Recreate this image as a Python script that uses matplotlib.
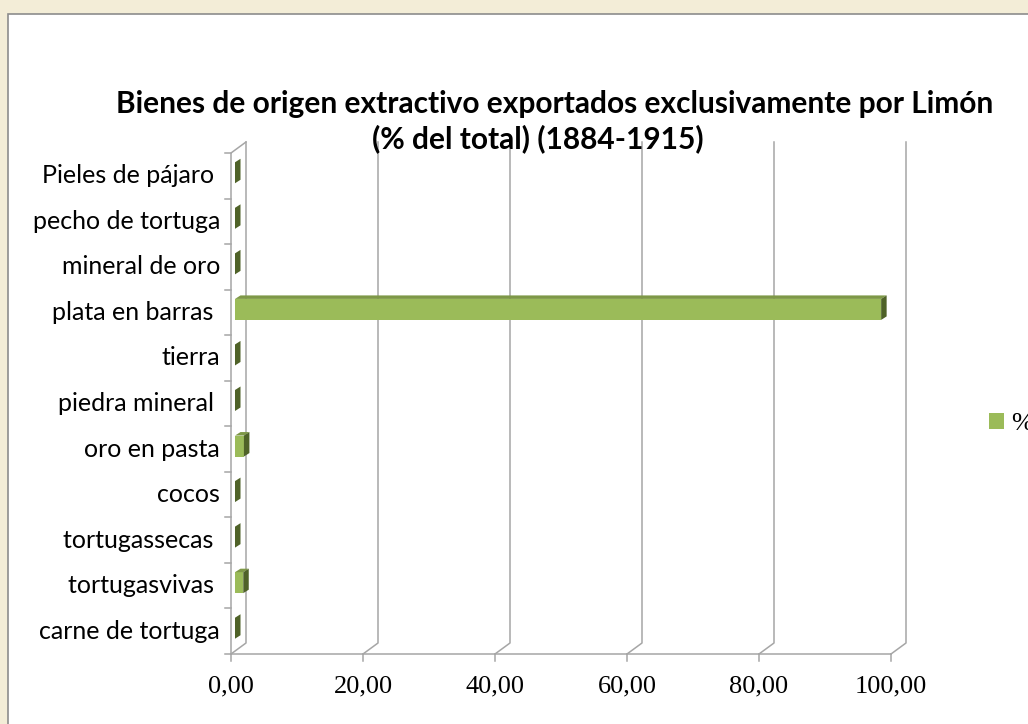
import matplotlib.pyplot as plt
from matplotlib.patches import Polygon, Rectangle

# datos (lectura del gráfico)
categorias = ["carne de tortuga", "tortugasvivas ", "tortugassecas ", "cocos",
              "oro en pasta", "piedra mineral ", "tierra", "plata en barras ",
              "mineral de oro", "pecho de tortuga", "Pieles de pájaro "]
porcentajes = [0.0, 1.25, 0.0, 0.0, 1.35, 0.0, 0.0, 97.9, 0.0, 0.0, 0.0]
ticks_x = [0, 20, 40, 60, 80, 100]
etiquetas_x = ["0,00", "20,00", "40,00", "60,00", "80,00", "100,00"]
titulo_1 = "Bienes de origen extractivo exportados exclusivamente por Limón"
titulo_2 = "(% del total) (1884-1915)"
serie = "%"

W, H = 1028, 724
fig = plt.figure(figsize=(W / 100, H / 100), dpi=100)
fig.patch.set_facecolor('#F3EDD7')

# área del gráfico (blanca, borde gris)
fig.patches.append(Rectangle((8 / W, -0.1), 1.2, (H - 14) / H + 0.1,
                             transform=fig.transFigure, facecolor='white',
                             edgecolor='#8c8c8c', lw=1.2, zorder=-10))

# ejes: 0..100 -> px 231..891, categorías -> px 654..153
ax = fig.add_axes([231 / W, (H - 654) / H, 660 / W, 501 / H])
ax.set_xlim(0, 100)
ax.set_ylim(-0.5, len(categorias) - 0.5)
ax.axis('off')

sx = 100 / 660.0
sy = len(categorias) / 501.0
ytop = len(categorias) - 0.5
dxw, dyw = 15 * sx, 11 * sy          # profundidad de la pared
fx, fy = 4 * sx, 3 * sy              # posición frontal de las barras
bdx, bdy = 5.5 * sx, 3.5 * sy        # profundidad de la barra
hh = 10.5 * sy

grid_c = '#a6a6a6'
kw = dict(color=grid_c, lw=1.1, clip_on=False, zorder=1)

# líneas de la pared del fondo y del piso
for t in ticks_x:
    ax.plot([t, t + dxw, t + dxw], [-0.5, -0.5 + dyw, ytop + dyw], **kw)
    ax.plot([t, t], [-0.5, -0.5 - 7 * sy], **kw)
ax.plot([0, 100], [-0.5, -0.5], **kw)
# pared lateral
ax.plot([0, 0, dxw], [-0.5, ytop, ytop + dyw], **kw)
for k in range(len(categorias) + 1):
    ax.plot([0, -6 * sx], [-0.5 + k, -0.5 + k], **kw)

# barras 3D
c_front, c_top, c_side = '#9BBB59', '#7E9847', '#4F6228'
ax.barh([i + fy for i in range(len(categorias))], porcentajes, height=2 * hh,
        left=fx, color=c_front, zorder=3, label=serie)
for i, v in enumerate(porcentajes):
    y0, y1 = i + fy - hh, i + fy + hh
    x1 = fx + v
    ax.add_patch(Polygon([(fx, y1), (x1, y1), (x1 + bdx, y1 + bdy), (fx + bdx, y1 + bdy)],
                         closed=True, facecolor=c_top, edgecolor='none', zorder=3))
    ax.add_patch(Polygon([(x1, y0), (x1 + bdx, y0 + bdy), (x1 + bdx, y1 + bdy), (x1, y1)],
                         closed=True, facecolor=c_side, edgecolor='none', zorder=3))

# etiquetas de categorías
for i, lab in enumerate(categorias):
    ax.text(-11 * sx, i, lab, ha='right', va='center', fontsize=18,
            family='Lato', color='black')

# etiquetas del eje x
for t, lab in zip(ticks_x, etiquetas_x):
    ax.text(t, -0.5 - 32 * sy, lab, ha='center', va='center', fontsize=19,
            family='Liberation Serif', color='black')

# título
fig.text(555 / W, 1 - 104 / H, titulo_1, ha='center', va='center', fontsize=21.5,
         fontweight='bold', family='Lato')
fig.text(538 / W, 1 - 139 / H, titulo_2, ha='center', va='center', fontsize=21.5,
         fontweight='bold', family='Lato')

# leyenda
ax.legend(loc='center left', bbox_to_anchor=(989 / W, 1 - 424 / H),
          bbox_transform=fig.transFigure, frameon=False, handlelength=0.55,
          handleheight=0.6, handletextpad=0.3, borderaxespad=0, borderpad=0,
          prop={'family': 'Liberation Serif', 'size': 19})

fig.savefig('out.png', dpi=100, facecolor=fig.get_facecolor())
